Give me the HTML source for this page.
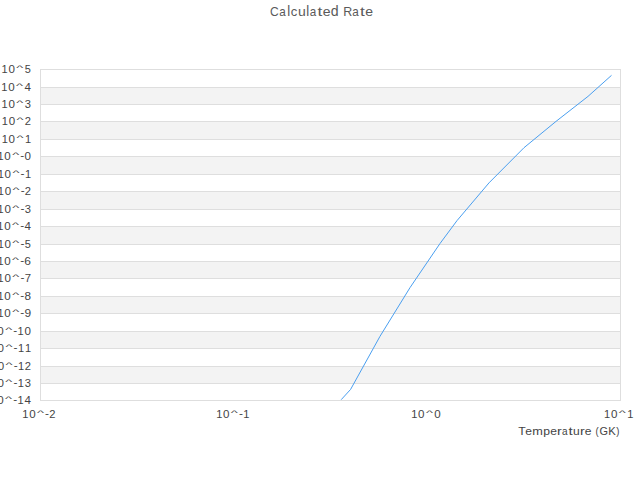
<!DOCTYPE html>
<html><head><meta charset="utf-8"><style>
html,body{margin:0;padding:0;background:#fff;width:640px;height:480px;overflow:hidden}
svg{display:block}
text{font-family:"Liberation Sans",sans-serif;}
</style></head><body>
<svg width="640" height="480" viewBox="0 0 640 480">
<rect width="640" height="480" fill="#fff"/>
<rect x="41" y="87" width="579" height="17" fill="#f3f3f3"/><rect x="41" y="121" width="579" height="18" fill="#f3f3f3"/><rect x="41" y="156" width="579" height="18" fill="#f3f3f3"/><rect x="41" y="191" width="579" height="18" fill="#f3f3f3"/><rect x="41" y="226" width="579" height="18" fill="#f3f3f3"/><rect x="41" y="261" width="579" height="17" fill="#f3f3f3"/><rect x="41" y="296" width="579" height="17" fill="#f3f3f3"/><rect x="41" y="331" width="579" height="17" fill="#f3f3f3"/><rect x="41" y="366" width="579" height="17" fill="#f3f3f3"/>
<rect x="40" y="69" width="581" height="1" fill="#dedede"/><rect x="40" y="87" width="581" height="1" fill="#dedede"/><rect x="40" y="104" width="581" height="1" fill="#dedede"/><rect x="40" y="121" width="581" height="1" fill="#dedede"/><rect x="40" y="139" width="581" height="1" fill="#dedede"/><rect x="40" y="156" width="581" height="1" fill="#dedede"/><rect x="40" y="174" width="581" height="1" fill="#dedede"/><rect x="40" y="191" width="581" height="1" fill="#dedede"/><rect x="40" y="209" width="581" height="1" fill="#dedede"/><rect x="40" y="226" width="581" height="1" fill="#dedede"/><rect x="40" y="244" width="581" height="1" fill="#dedede"/><rect x="40" y="261" width="581" height="1" fill="#dedede"/><rect x="40" y="278" width="581" height="1" fill="#dedede"/><rect x="40" y="296" width="581" height="1" fill="#dedede"/><rect x="40" y="313" width="581" height="1" fill="#dedede"/><rect x="40" y="331" width="581" height="1" fill="#dedede"/><rect x="40" y="348" width="581" height="1" fill="#dedede"/><rect x="40" y="366" width="581" height="1" fill="#dedede"/><rect x="40" y="383" width="581" height="1" fill="#dedede"/><rect x="40" y="400" width="581" height="1" fill="#dedede"/>
<rect x="40" y="69" width="1" height="332" fill="#dedede"/>
<rect x="620" y="69" width="1" height="332" fill="#dedede"/>
<path d="M341.20,399.70 L350.60,389.40 L380.00,336.30 L410.00,287.64 L440.00,243.50 L457.00,220.61 L489.00,182.86 L524.00,147.70 L556.00,121.40 L588.00,96.40 L611.50,75.35" fill="none" stroke="#4a9ff0" stroke-width="1"/>
<g font-size="11" fill="#444444">
<text transform="matrix(1.0068,0,0,1.0596,1.614,73.000)">1</text><text transform="matrix(1.0541,0,0,1.0596,8.520,73.000)">0</text><text transform="matrix(1.3624,0,0,0.6303,16.338,70.451)">^</text><text transform="matrix(0.9949,0,0,1.0596,24.873,73.000)">5</text><text transform="matrix(1.0068,0,0,1.0596,1.270,91.000)">1</text><text transform="matrix(1.0541,0,0,1.0596,8.176,91.000)">0</text><text transform="matrix(1.3624,0,0,0.6303,15.995,88.451)">^</text><text transform="matrix(1.0543,0,0,1.0596,24.390,91.000)">4</text><text transform="matrix(1.0068,0,0,1.0596,1.533,108.000)">1</text><text transform="matrix(1.0541,0,0,1.0596,8.439,108.000)">0</text><text transform="matrix(1.3624,0,0,0.6303,16.258,105.451)">^</text><text transform="matrix(1.0124,0,0,1.0596,24.796,108.000)">3</text><text transform="matrix(1.0068,0,0,1.0596,1.754,125.000)">1</text><text transform="matrix(1.0541,0,0,1.0596,8.659,125.000)">0</text><text transform="matrix(1.3624,0,0,0.6303,16.478,122.451)">^</text><text transform="matrix(1.0161,0,0,1.0596,24.846,125.000)">2</text><text transform="matrix(1.0068,0,0,1.0596,1.668,143.000)">1</text><text transform="matrix(1.0541,0,0,1.0596,8.573,143.000)">0</text><text transform="matrix(1.3624,0,0,0.6303,16.392,140.451)">^</text><text transform="matrix(1.0068,0,0,1.0596,24.882,143.000)">1</text><text transform="matrix(1.0068,0,0,1.0596,-2.586,160.000)">1</text><text transform="matrix(1.0541,0,0,1.0596,4.320,160.000)">0</text><text transform="matrix(1.3624,0,0,0.6303,12.138,157.451)">^</text><text transform="matrix(1.0780,0,0,1.0596,20.273,159.000)">-</text><text transform="matrix(1.0541,0,0,1.0596,24.504,160.000)">0</text><text transform="matrix(1.0068,0,0,1.0596,-2.302,178.000)">1</text><text transform="matrix(1.0541,0,0,1.0596,4.604,178.000)">0</text><text transform="matrix(1.3624,0,0,0.6303,12.423,175.451)">^</text><text transform="matrix(1.0780,0,0,1.0596,20.558,177.000)">-</text><text transform="matrix(1.0068,0,0,1.0596,24.882,178.000)">1</text><text transform="matrix(1.0068,0,0,1.0596,-2.216,195.000)">1</text><text transform="matrix(1.0541,0,0,1.0596,4.690,195.000)">0</text><text transform="matrix(1.3624,0,0,0.6303,12.509,192.451)">^</text><text transform="matrix(1.0780,0,0,1.0596,20.644,194.000)">-</text><text transform="matrix(1.0161,0,0,1.0596,24.846,195.000)">2</text><text transform="matrix(1.0068,0,0,1.0596,-2.436,213.000)">1</text><text transform="matrix(1.0541,0,0,1.0596,4.470,213.000)">0</text><text transform="matrix(1.3624,0,0,0.6303,12.289,210.451)">^</text><text transform="matrix(1.0780,0,0,1.0596,20.423,212.000)">-</text><text transform="matrix(1.0124,0,0,1.0596,24.796,213.000)">3</text><text transform="matrix(1.0068,0,0,1.0596,-2.699,230.000)">1</text><text transform="matrix(1.0541,0,0,1.0596,4.207,230.000)">0</text><text transform="matrix(1.3624,0,0,0.6303,12.025,227.451)">^</text><text transform="matrix(1.0780,0,0,1.0596,20.160,229.000)">-</text><text transform="matrix(1.0543,0,0,1.0596,24.390,230.000)">4</text><text transform="matrix(1.0068,0,0,1.0596,-2.355,248.000)">1</text><text transform="matrix(1.0541,0,0,1.0596,4.550,248.000)">0</text><text transform="matrix(1.3624,0,0,0.6303,12.369,245.451)">^</text><text transform="matrix(1.0780,0,0,1.0596,20.504,247.000)">-</text><text transform="matrix(0.9949,0,0,1.0596,24.873,248.000)">5</text><text transform="matrix(1.0068,0,0,1.0596,-2.624,265.000)">1</text><text transform="matrix(1.0541,0,0,1.0596,4.282,265.000)">0</text><text transform="matrix(1.3624,0,0,0.6303,12.101,262.451)">^</text><text transform="matrix(1.0780,0,0,1.0596,20.235,264.000)">-</text><text transform="matrix(1.0910,0,0,1.0596,24.353,265.000)">6</text><text transform="matrix(1.0068,0,0,1.0596,-2.377,282.000)">1</text><text transform="matrix(1.0541,0,0,1.0596,4.529,282.000)">0</text><text transform="matrix(1.3624,0,0,0.6303,12.348,279.451)">^</text><text transform="matrix(1.0780,0,0,1.0596,20.482,281.000)">-</text><text transform="matrix(1.0311,0,0,1.0596,24.762,282.000)">7</text><text transform="matrix(1.0068,0,0,1.0596,-2.565,300.000)">1</text><text transform="matrix(1.0541,0,0,1.0596,4.341,300.000)">0</text><text transform="matrix(1.3624,0,0,0.6303,12.160,297.451)">^</text><text transform="matrix(1.0780,0,0,1.0596,20.294,299.000)">-</text><text transform="matrix(1.0656,0,0,1.0596,24.491,300.000)">8</text><text transform="matrix(1.0068,0,0,1.0596,-2.543,317.000)">1</text><text transform="matrix(1.0541,0,0,1.0596,4.362,317.000)">0</text><text transform="matrix(1.3624,0,0,0.6303,12.181,314.451)">^</text><text transform="matrix(1.0780,0,0,1.0596,20.316,316.000)">-</text><text transform="matrix(1.0888,0,0,1.0596,24.406,317.000)">9</text><text transform="matrix(1.0068,0,0,1.0596,-9.585,335.000)">1</text><text transform="matrix(1.0541,0,0,1.0596,-2.679,335.000)">0</text><text transform="matrix(1.3624,0,0,0.6303,5.140,332.451)">^</text><text transform="matrix(1.0780,0,0,1.0596,13.274,334.000)">-</text><text transform="matrix(1.0068,0,0,1.0596,17.598,335.000)">1</text><text transform="matrix(1.0541,0,0,1.0596,24.504,335.000)">0</text><text transform="matrix(1.0068,0,0,1.0596,-9.300,352.000)">1</text><text transform="matrix(1.0541,0,0,1.0596,-2.394,352.000)">0</text><text transform="matrix(1.3624,0,0,0.6303,5.424,349.451)">^</text><text transform="matrix(1.0780,0,0,1.0596,13.559,351.000)">-</text><text transform="matrix(1.0068,0,0,1.0596,17.883,352.000)">1</text><text transform="matrix(1.0068,0,0,1.0596,24.882,352.000)">1</text><text transform="matrix(1.0068,0,0,1.0596,-9.214,370.000)">1</text><text transform="matrix(1.0541,0,0,1.0596,-2.308,370.000)">0</text><text transform="matrix(1.3624,0,0,0.6303,5.510,367.451)">^</text><text transform="matrix(1.0780,0,0,1.0596,13.645,369.000)">-</text><text transform="matrix(1.0068,0,0,1.0596,17.969,370.000)">1</text><text transform="matrix(1.0161,0,0,1.0596,24.846,370.000)">2</text><text transform="matrix(1.0068,0,0,1.0596,-9.434,387.000)">1</text><text transform="matrix(1.0541,0,0,1.0596,-2.529,387.000)">0</text><text transform="matrix(1.3624,0,0,0.6303,5.290,384.451)">^</text><text transform="matrix(1.0780,0,0,1.0596,13.425,386.000)">-</text><text transform="matrix(1.0068,0,0,1.0596,17.749,387.000)">1</text><text transform="matrix(1.0124,0,0,1.0596,24.796,387.000)">3</text><text transform="matrix(1.0068,0,0,1.0596,-9.698,404.000)">1</text><text transform="matrix(1.0541,0,0,1.0596,-2.792,404.000)">0</text><text transform="matrix(1.3624,0,0,0.6303,5.027,401.451)">^</text><text transform="matrix(1.0780,0,0,1.0596,13.162,403.000)">-</text><text transform="matrix(1.0068,0,0,1.0596,17.486,404.000)">1</text><text transform="matrix(1.0543,0,0,1.0596,24.390,404.000)">4</text><text transform="matrix(1.0068,0,0,1.0596,22.220,418.000)">1</text><text transform="matrix(1.0541,0,0,1.0596,29.126,418.000)">0</text><text transform="matrix(1.3624,0,0,0.6303,36.945,415.451)">^</text><text transform="matrix(1.0780,0,0,1.0596,45.080,417.000)">-</text><text transform="matrix(1.0161,0,0,1.0596,49.282,418.000)">2</text><text transform="matrix(1.0068,0,0,1.0596,216.127,418.000)">1</text><text transform="matrix(1.0541,0,0,1.0596,223.033,418.000)">0</text><text transform="matrix(1.3624,0,0,0.6303,230.852,415.451)">^</text><text transform="matrix(1.0780,0,0,1.0596,238.987,417.000)">-</text><text transform="matrix(1.0068,0,0,1.0596,243.311,418.000)">1</text><text transform="matrix(1.0068,0,0,1.0596,411.170,418.000)">1</text><text transform="matrix(1.0541,0,0,1.0596,418.075,418.000)">0</text><text transform="matrix(1.3624,0,0,0.6303,425.894,415.451)">^</text><text transform="matrix(1.0541,0,0,1.0596,434.291,418.000)">0</text><text transform="matrix(1.0068,0,0,1.0596,604.112,418.000)">1</text><text transform="matrix(1.0541,0,0,1.0596,611.018,418.000)">0</text><text transform="matrix(1.3624,0,0,0.6303,618.837,415.451)">^</text><text transform="matrix(1.0068,0,0,1.0596,627.326,418.000)">1</text>
<text transform="matrix(1.1095,0,0,1.0596,518.126,435.000)">T</text><text transform="matrix(1.0988,0,0,1.0596,525.372,435.000)">e</text><text transform="matrix(1.1591,0,0,1.0596,532.322,435.000)">m</text><text transform="matrix(1.1068,0,0,1.0596,543.285,435.000)">p</text><text transform="matrix(1.0988,0,0,1.0596,550.260,435.000)">e</text><text transform="matrix(1.3034,0,0,1.0596,557.105,435.000)">r</text><text transform="matrix(0.9148,0,0,1.0596,561.886,435.000)">a</text><text transform="matrix(1.3596,0,0,1.0596,568.573,435.000)">t</text><text transform="matrix(1.0968,0,0,1.0596,573.054,435.000)">u</text><text transform="matrix(1.3034,0,0,1.0596,580.043,435.000)">r</text><text transform="matrix(1.0988,0,0,1.0596,584.683,435.000)">e</text><text transform="matrix(0.8599,0,0,1.0596,595.396,435.000)">(</text><text transform="matrix(0.9922,0,0,1.0596,599.466,435.000)">G</text><text transform="matrix(1.0259,0,0,1.0596,608.230,435.000)">K</text><text transform="matrix(0.8599,0,0,1.0596,616.237,435.000)">)</text>
</g>
<g font-size="13" fill="#5a5a5a">
<text transform="matrix(0.9286,0,0,0.9854,269.987,15.500)">C</text><text transform="matrix(0.8995,0,0,0.9854,279.234,15.500)">a</text><text transform="matrix(1.0225,0,0,1.0914,287.248,15.500)">l</text><text transform="matrix(1.0037,0,0,0.9854,290.694,15.500)">c</text><text transform="matrix(1.0785,0,0,0.9854,297.875,15.500)">u</text><text transform="matrix(1.0225,0,0,1.0914,306.251,15.500)">l</text><text transform="matrix(0.8995,0,0,0.9854,309.819,15.500)">a</text><text transform="matrix(1.3369,0,0,1.0278,317.589,15.500)">t</text><text transform="matrix(1.0804,0,0,0.9854,322.722,15.500)">e</text><text transform="matrix(1.0872,0,0,1.0596,330.726,15.500)">d</text><text transform="matrix(0.9567,0,0,0.9854,343.246,15.500)">R</text><text transform="matrix(0.8995,0,0,0.9854,352.309,15.500)">a</text><text transform="matrix(1.3369,0,0,1.0278,360.079,15.500)">t</text><text transform="matrix(1.0804,0,0,0.9854,365.213,15.500)">e</text>
</g>
</svg>
</body></html>
